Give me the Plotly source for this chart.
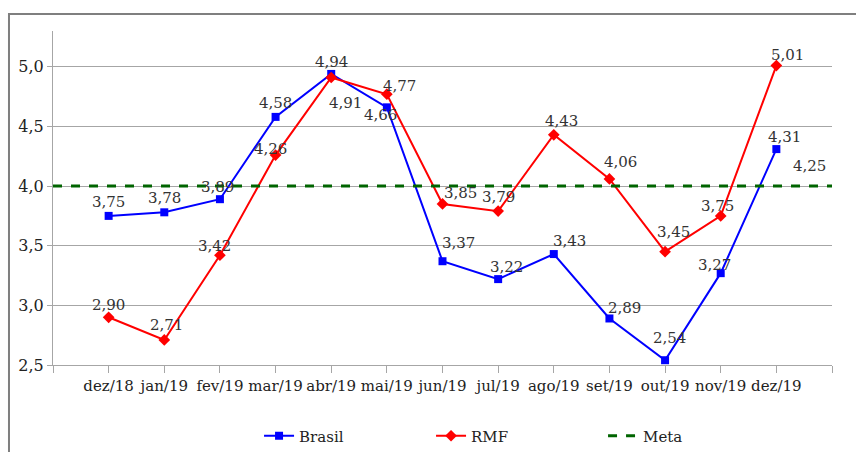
import plotly.graph_objects as go

# Monthly 12-month inflation: Brazil vs. metropolitan region (RMF), with target
CATEGORIES = ["dez/18", "jan/19", "fev/19", "mar/19", "abr/19", "mai/19", "jun/19",
              "jul/19", "ago/19", "set/19", "out/19", "nov/19", "dez/19"]
BRASIL = [3.75, 3.78, 3.89, 4.58, 4.94, 4.66, 3.37, 3.22, 3.43, 2.89, 2.54, 3.27, 4.31]
RMF = [2.90, 2.71, 3.42, 4.26, 4.91, 4.77, 3.85, 3.79, 4.43, 4.06, 3.45, 3.75, 5.01]
META = 4.0
META_LABEL = 4.25
Y_TICKS = [2.5, 3.0, 3.5, 4.0, 4.5, 5.0]

FONT = "DejaVu Serif, Liberation Serif, serif"
xs = list(range(len(CATEGORIES)))


def fmt(v, d=2):
    return f"{v:.{d}f}".replace(".", ",")


fig = go.Figure()
fig.add_trace(go.Scatter(
    x=xs, y=BRASIL, name="Brasil", mode="lines+markers",
    line=dict(color="#0000ff", width=2),
    marker=dict(symbol="square", size=8, color="#0000ff"),
))
fig.add_trace(go.Scatter(
    x=xs, y=RMF, name="RMF", mode="lines+markers",
    line=dict(color="#ff0000", width=2),
    marker=dict(symbol="diamond", size=9, color="#ff0000"),
))
fig.add_trace(go.Scatter(
    x=[-1, len(CATEGORIES)], y=[META, META], name="Meta", mode="lines",
    line=dict(color="#006400", width=3, dash="dash"),
))

# label offsets (pixels) for each point's value
brasil_off = [(0, 14), (0, 14), (-2, 12), (0, 14), (0, 12), (-6, -8), (16, 18),
              (8, 12), (16, 13), (15, 10), (4, 22), (-6, 8), (8, 12)]
rmf_off = [(0, 12), (2, 15), (-5, 9), (-5, 6), (14, -25), (13, 8), (18, 11),
           (0, 14), (8, 14), (11, 17), (8, 20), (-3, 10), (11, 11)]

LABEL_FONT = dict(family=FONT, size=15, color="#333333")
annotations = []
for i, v in enumerate(BRASIL):
    dx, dy = brasil_off[i]
    annotations.append(dict(x=xs[i], y=v, text=fmt(v), showarrow=False,
                            xshift=dx, yshift=dy, font=LABEL_FONT))
for i, v in enumerate(RMF):
    dx, dy = rmf_off[i]
    annotations.append(dict(x=xs[i], y=v, text=fmt(v), showarrow=False,
                            xshift=dx, yshift=dy, font=LABEL_FONT))
annotations.append(dict(x=xs[-1], y=META, text=fmt(META_LABEL), showarrow=False,
                        xshift=33, yshift=20, font=LABEL_FONT))

fig.update_layout(
    width=856, height=452,
    margin=dict(l=53, r=24, t=31, b=87, autoexpand=False),
    paper_bgcolor="white", plot_bgcolor="white",
    font=dict(family=FONT, size=15, color="#222222"),
    showlegend=True,
    legend=dict(orientation="h", x=0.2645, y=-0.2126, xanchor="left", yanchor="middle",
                entrywidth=127, entrywidthmode="pixels",
                font=dict(family=FONT, size=15, color="#222222")),
    annotations=annotations,
    xaxis=dict(range=[-1, len(CATEGORIES)], tickmode="array",
               tickvals=list(range(-1, len(CATEGORIES) + 1)),
               ticktext=[""] + CATEGORIES + [""], tickangle=0,
               showgrid=False, zeroline=False,
               showline=True, linecolor="#a6a6a6", linewidth=1,
               ticks="outside", ticklen=7, tickcolor="#a6a6a6",
               tickfont=dict(family=FONT, size=15, color="#222222")),
    yaxis=dict(range=[2.5, 5.3], tickmode="array", tickvals=Y_TICKS,
               ticktext=[fmt(t, 1) for t in Y_TICKS],
               showgrid=True, gridcolor="#a6a6a6", gridwidth=1, zeroline=False,
               showline=True, linecolor="#a6a6a6", linewidth=1,
               ticks="outside", ticklen=5, tickcolor="#a6a6a6",
               tickfont=dict(family=FONT, size=16, color="#222222")),
    shapes=[dict(type="rect", xref="paper", yref="paper",
                 x0=-0.0565, x1=1.06, y0=-0.3, y1=1.051,
                 line=dict(color="#7f7f7f", width=2), fillcolor="rgba(0,0,0,0)",
                 layer="below")],
)

fig.write_html("out.html")
